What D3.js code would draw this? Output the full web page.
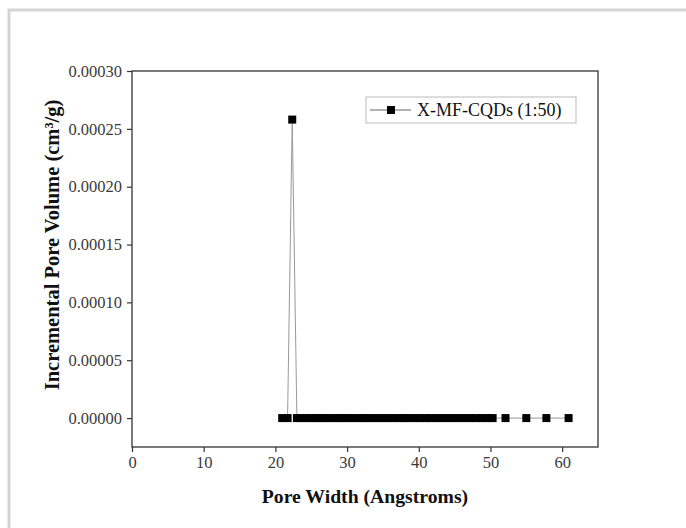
<!DOCTYPE html>
<html>
<head>
<meta charset="utf-8">
<script src="https://cdn.jsdelivr.net/npm/d3@7"></script>
<style>
  body { margin: 0; background: #fff; }
  svg { display: block; font-family: "Liberation Serif", "Times New Roman", serif; }
</style>
</head>
<body>
<script>
// DATA
const seriesName = "X-MF-CQDs (1:50)";
const poreWidth = [
  20.95, 21.7, 22.35, 23.0, 23.6, 24.3, 24.9, 25.6, 26.2, 26.9, 27.5, 28.2,
  28.9, 29.5, 30.2, 30.9, 31.6, 32.3, 33.0, 33.7, 34.4, 35.1, 35.8, 36.5,
  37.3, 38.0, 38.7, 39.5, 40.2, 41.0, 41.7, 42.5, 43.3, 44.0, 44.8, 45.6,
  46.4, 47.2, 48.0, 48.8, 49.6, 50.3, 52.1, 55.0, 57.8, 60.9
];
const poreVolume = [
  0, 0, 0.000258, 0, 0, 0, 0, 0, 0, 0, 0, 0,
  0, 0, 0, 0, 0, 0, 0, 0, 0, 0, 0, 0,
  0, 0, 0, 0, 0, 0, 0, 0, 0, 0, 0, 0,
  0, 0, 0, 0, 0, 0, 0, 0, 0, 0
];
const xTicks = [0, 10, 20, 30, 40, 50, 60];
const yTicks = [0, 0.00005, 0.0001, 0.00015, 0.0002, 0.00025, 0.0003];

const data = poreWidth.map((x, i) => ({ x, y: poreVolume[i] }));

// LAYOUT
const width = 686;
const height = 528;
const margin = { top: 71, right: 88, bottom: 81, left: 132 };

const svg = d3.select("body").append("svg")
  .attr("width", width)
  .attr("height", height);

// outer frame (top + left only visible)
svg.append("path")
  .attr("d", `M9,${height} V10 H${width}`)
  .attr("fill", "none")
  .attr("stroke", "#d4d4d4")
  .attr("stroke-width", 3);

// SCALES
const xScale = d3.scaleLinear()
  .domain([0, 65])
  .range([margin.left, width - margin.right]);

const yScale = d3.scaleLinear()
  .domain([-0.000025, 0.0003])
  .range([height - margin.bottom, margin.top]);

// AXES
const xAxis = d3.axisBottom(xScale).tickValues(xTicks).tickSize(5).tickPadding(4).tickFormat(d => d);
const yAxis = d3.axisLeft(yScale).tickValues(yTicks).tickSize(5).tickPadding(5).tickFormat(d3.format(".5f"));

const gx = svg.append("g")
  .attr("transform", `translate(0,${height - margin.bottom})`)
  .call(xAxis);
const gy = svg.append("g")
  .attr("transform", `translate(${margin.left},0)`)
  .call(yAxis);

[gx, gy].forEach(g => {
  g.attr("font-family", null).attr("font-size", null);
  g.select(".domain").remove();
  g.selectAll(".tick line").attr("stroke", "#333").attr("stroke-width", 1.2);
  g.selectAll(".tick text")
    .attr("fill", "#3a3a3a")
    .style("font-family", "'Liberation Serif', serif")
    .style("font-size", "16.5px");
});

// plot box
svg.append("rect")
  .attr("x", margin.left)
  .attr("y", margin.top)
  .attr("width", width - margin.left - margin.right)
  .attr("height", height - margin.top - margin.bottom)
  .attr("fill", "none")
  .attr("stroke", "#333")
  .attr("stroke-width", 1.3);

// LINE
const line = d3.line().x(d => xScale(d.x)).y(d => yScale(d.y));
svg.append("path")
  .datum(data)
  .attr("d", line)
  .attr("fill", "none")
  .attr("stroke", "#999")
  .attr("stroke-width", 1);

// MARKERS
const ms = 8;
svg.selectAll("rect.pt")
  .data(data)
  .enter()
  .append("rect")
  .attr("class", "pt")
  .attr("x", d => xScale(d.x) - ms / 2)
  .attr("y", d => yScale(d.y) - ms / 2)
  .attr("width", ms)
  .attr("height", ms)
  .attr("fill", "#000");

// AXIS TITLES
svg.append("text")
  .attr("x", (margin.left + width - margin.right) / 2)
  .attr("y", 503)
  .attr("text-anchor", "middle")
  .style("font-weight", "bold")
  .style("font-size", "19.7px")
  .attr("fill", "#111")
  .text("Pore Width (Angstroms)");

svg.append("text")
  .attr("transform", `translate(59,245) rotate(-90)`)
  .attr("text-anchor", "middle")
  .style("font-weight", "bold")
  .style("font-size", "20.5px")
  .attr("fill", "#111")
  .text("Incremental Pore Volume (cm³/g)");

// LEGEND
const legend = svg.append("g").attr("transform", "translate(366,97)");
legend.append("rect")
  .attr("width", 210)
  .attr("height", 26)
  .attr("fill", "#fff")
  .attr("stroke", "#bbb")
  .attr("stroke-width", 1);
legend.append("line")
  .attr("x1", 4).attr("x2", 45)
  .attr("y1", 13).attr("y2", 13)
  .attr("stroke", "#666");
legend.append("rect")
  .attr("x", 25 - ms / 2).attr("y", 13 - ms / 2)
  .attr("width", ms).attr("height", ms)
  .attr("fill", "#000");
legend.append("text")
  .attr("x", 51)
  .attr("y", 19)
  .style("font-size", "18px")
  .attr("fill", "#111")
  .text(seriesName);
</script>
</body>
</html>
